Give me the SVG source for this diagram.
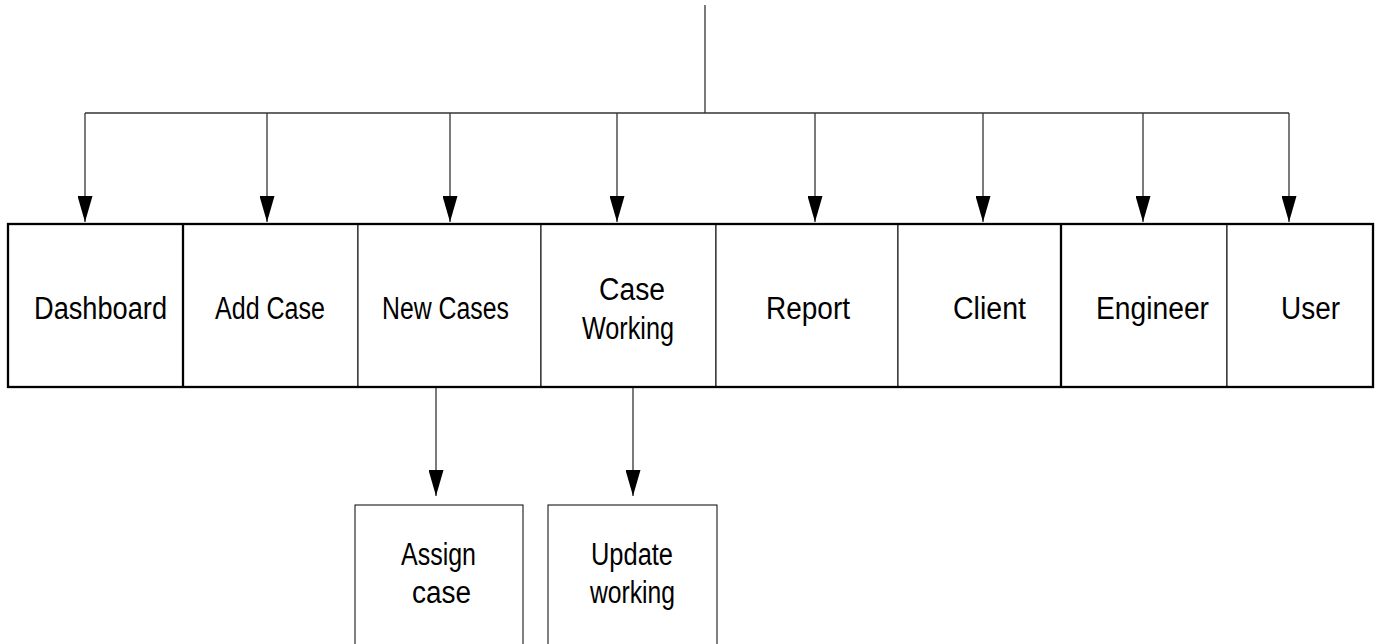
<svg xmlns="http://www.w3.org/2000/svg" width="1380" height="644" viewBox="0 0 1380 644">
<style>
.cell{fill:#fff;stroke:#000;stroke-width:1}
.frame{fill:none;stroke:#000;stroke-width:2.3}
.thick{stroke:#000;stroke-width:2.3}
.lbl{font-family:"Liberation Sans",Arial,sans-serif;font-size:31px;fill:#000}
.con{fill:none;stroke:#333;stroke-width:1.3}
</style>
<defs>
<marker id="arr" markerUnits="userSpaceOnUse" markerWidth="26" markerHeight="15" viewBox="0 0 26 15" refX="26" refY="7.5" orient="auto">
<path d="M0,0 L26,7.5 L0,15 z" fill="#000"/>
</marker>
</defs>
<rect width="1380" height="644" fill="#fff"/>
<g id="nodes">
<g id="dashboard"><rect class="cell" x="8" y="224" width="175" height="163"/><text class="lbl" x="34" y="319" textLength="133" lengthAdjust="spacingAndGlyphs">Dashboard</text></g>
<g id="add-case"><rect class="cell" x="183" y="224" width="175" height="163"/><text class="lbl" x="215" y="319" textLength="110" lengthAdjust="spacingAndGlyphs">Add Case</text></g>
<g id="new-cases"><rect class="cell" x="358" y="224" width="183" height="163"/><text class="lbl" x="382" y="319" textLength="127" lengthAdjust="spacingAndGlyphs">New Cases</text></g>
<g id="case-working"><rect class="cell" x="541" y="224" width="175" height="163"/><text class="lbl" x="599" y="300" textLength="66" lengthAdjust="spacingAndGlyphs">Case</text><text class="lbl" x="582" y="339" textLength="92" lengthAdjust="spacingAndGlyphs">Working</text></g>
<g id="report"><rect class="cell" x="716" y="224" width="182" height="163"/><text class="lbl" x="766" y="319" textLength="84" lengthAdjust="spacingAndGlyphs">Report</text></g>
<g id="client"><rect class="cell" x="898" y="224" width="163" height="163"/><text class="lbl" x="953" y="319" textLength="73" lengthAdjust="spacingAndGlyphs">Client</text></g>
<g id="engineer"><rect class="cell" x="1061" y="224" width="166" height="163"/><text class="lbl" x="1096" y="319" textLength="113" lengthAdjust="spacingAndGlyphs">Engineer</text></g>
<g id="user"><rect class="cell" x="1227" y="224" width="146" height="163"/><text class="lbl" x="1281" y="319" textLength="59" lengthAdjust="spacingAndGlyphs">User</text></g>
<g id="frame"><rect class="frame" x="8" y="224" width="1365" height="163"/><line class="thick" x1="183" y1="224" x2="183" y2="387"/><line class="thick" x1="1061" y1="224" x2="1061" y2="387"/></g>
<g id="assign-case"><rect class="cell" x="355" y="505" width="168" height="150"/><text class="lbl" x="401" y="565" textLength="75" lengthAdjust="spacingAndGlyphs">Assign</text><text class="lbl" x="412" y="603" textLength="59" lengthAdjust="spacingAndGlyphs">case</text></g>
<g id="update-working"><rect class="cell" x="548" y="505" width="169" height="150"/><text class="lbl" x="591" y="565" textLength="82" lengthAdjust="spacingAndGlyphs">Update</text><text class="lbl" x="590" y="603" textLength="85" lengthAdjust="spacingAndGlyphs">working</text></g>
</g>
<g id="connectors">
<path class="con" d="M705,5 V113"/>
<path class="con" d="M85,113 H1289"/>
<path class="con" d="M85,113 V222" marker-end="url(#arr)"/>
<path class="con" d="M267,113 V222" marker-end="url(#arr)"/>
<path class="con" d="M450,113 V222" marker-end="url(#arr)"/>
<path class="con" d="M617,113 V222" marker-end="url(#arr)"/>
<path class="con" d="M815,113 V222" marker-end="url(#arr)"/>
<path class="con" d="M983,113 V222" marker-end="url(#arr)"/>
<path class="con" d="M1143,113 V222" marker-end="url(#arr)"/>
<path class="con" d="M1289,113 V222" marker-end="url(#arr)"/>
<path class="con" d="M436,388 V496" marker-end="url(#arr)"/>
<path class="con" d="M633,388 V496" marker-end="url(#arr)"/>
</g>
</svg>
